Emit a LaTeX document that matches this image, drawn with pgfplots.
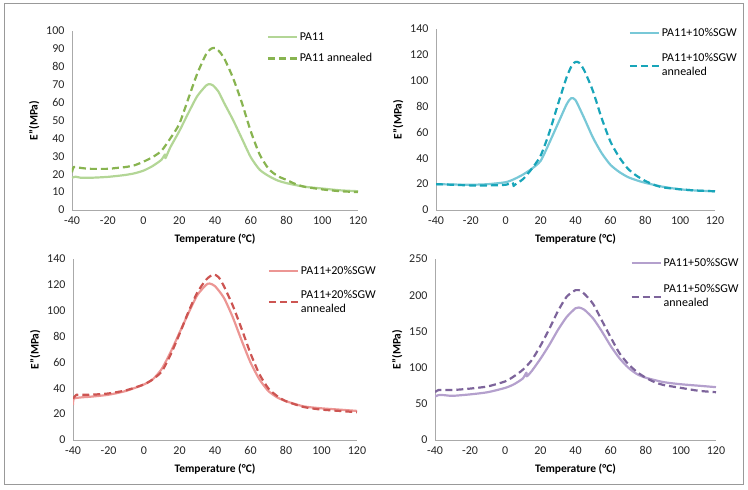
\documentclass[border=0pt]{standalone}
\usepackage{pgfplots}
\pgfplotsset{compat=1.18}
\usepackage{fontspec}
\setmainfont{Carlito}
\definecolor{gS}{RGB}{179,214,150}
\definecolor{gD}{RGB}{136,180,80}
\definecolor{cS}{RGB}{120,200,215}
\definecolor{cD}{RGB}{24,165,185}
\definecolor{rS}{RGB}{236,150,148}
\definecolor{rD}{RGB}{205,85,82}
\definecolor{pS}{RGB}{180,160,205}
\definecolor{pD}{RGB}{125,100,155}
\definecolor{axc}{RGB}{170,170,170}
\pgfplotsset{
  panel/.style={
    scale only axis,
    anchor=south west,
    axis lines=left,
    axis line style={axc, line width=0.8pt, -},
    xmin=-40, xmax=120,
    xtick={-40,-20,...,120},
    major tick length=0pt,
    tick style={draw=none},
    /pgf/number format/assume math mode=true,
    ticklabel style={font=\fontsize{12}{14}\selectfont, text=black!85},
    xticklabel style={yshift=-3pt},
    yticklabel style={xshift=-4pt},
    xlabel={\textbf{Temperature (°C)}},
    ylabel={\textbf{E"(MPa)}},
    label style={font=\fontsize{11.5}{13}\selectfont},
    xlabel style={yshift=-2pt},
    ylabel style={yshift=0pt},
    legend style={draw=none, fill=none, font=\fontsize{12}{14}\selectfont,
      anchor=north west, row sep=12pt, inner sep=0pt,
      cells={anchor=west, align=left}},
    legend cell align=left,
    legend image code/.code={\draw[##1] (0pt,0pt) -- (29pt,0pt);},
    every axis plot/.append style={line width=2.2pt, line join=round, smooth, tension=0.4},
  },
  dsh/.style={dash pattern=on 7pt off 4pt},
}
\begin{document}
\begin{tikzpicture}[x=1pt,y=1pt]
\useasboundingbox (0,0) rectangle (748,490);
\draw[gray!80, line width=0.8pt] (4,6) rectangle (743,487);

% top-left
\begin{axis}[panel, at={(72pt,280pt)}, width=286pt, height=179pt,
  ymin=0, ymax=100, ytick={0,10,...,100},
  legend style={at={(0.68,1.005)}, row sep=8pt}]
\addplot[gS] coordinates {(-40,18) (-38,18.6) (-35,18) (-30,18) (-25,18.2) (-20,18.5) (-15,19) (-10,19.6) (-5,20.5) (0,22) (5,24.5) (10,28) (12,31) (12.3,29) (15,35) (20,44) (25,54) (30,63.5) (35,69.5) (37,70.3) (39,69.5) (42,66) (45,60) (50,50.5) (55,40) (60,29.5) (65,22.5) (70,19) (75,16.5) (80,15) (90,13) (100,12) (110,11) (120,10.5)};
\addlegendentry{PA11}
\addplot[gD, dsh] coordinates {(-40,21) (-39,24) (-35,23.5) (-30,23) (-20,23) (-15,23.5) (-10,24) (-5,25) (0,27) (5,29.5) (10,33) (15,40) (20,48) (25,62) (30,76) (35,87) (38,90.2) (40,90.5) (42,89) (45,85) (50,74) (55,60) (60,44) (65,31) (70,23) (75,19) (80,16.8) (85,14.5) (90,13) (100,11.5) (110,10.5) (120,10)};
\addlegendentry{PA11 annealed}
\end{axis}

% top-right
\begin{axis}[panel, at={(436pt,280pt)}, width=279pt, height=181pt,
  ymin=0, ymax=140, ytick={0,20,...,140},
  legend style={at={(0.69,1.017)}}]
\addplot[cS] coordinates {(-40,20) (-30,19.7) (-20,19.5) (-10,20) (0,21.5) (5,24) (10,27.5) (15,32) (20,38) (25,52) (30,67) (35,82) (37.5,86.5) (40,85) (45,71) (50,56) (55,44) (60,35) (65,29.5) (70,25.5) (75,23) (80,21) (90,18) (100,16) (110,15) (120,14.5)};
\addlegendentry{PA11+10\%SGW}
\addplot[cD, dsh] coordinates {(-40,20) (-30,19.5) (-20,19) (-10,19) (0,19.5) (4,21) (4.5,18.5) (5,19.3) (10,24) (15,32) (20,42) (25,60) (30,82) (35,103) (38,112) (40,114.5) (42,114) (45,108) (50,92) (55,71) (60,53) (65,41) (70,32) (75,26.5) (80,22.5) (85,19.5) (90,17.5) (100,16) (110,15) (120,14.5)};
\addlegendentry{PA11+10\%SGW\\annealed}
\end{axis}

% bottom-left
\begin{axis}[panel, at={(73pt,50pt)}, width=284pt, height=181pt,
  ymin=0, ymax=140, ytick={0,20,...,140},
  legend style={at={(0.685,0.972)}, row sep=10pt}]
\addplot[rS] coordinates {(-40,27) (-39.5,32) (-35,33) (-30,33.5) (-20,35) (-10,38) (0,43) (5,47) (10,55) (15,68) (20,83) (25,98) (30,112) (35,120) (37,121) (40,119) (45,110) (50,95) (55,77) (60,60) (65,47) (70,38) (75,33) (80,30) (90,26) (100,24.5) (110,23.5) (120,22.5)};
\addlegendentry{PA11+20\%SGW}
\addplot[rD, dsh] coordinates {(-40,32) (-38,35) (-35,35) (-30,35) (-20,36) (-10,38.5) (0,43) (5,47) (10,53) (15,66) (20,82) (25,99) (30,114) (35,124) (39,128) (42,126) (45,119) (50,104) (55,86) (60,67) (65,51) (70,40) (75,34) (80,30) (90,25.5) (100,23.5) (110,22.5) (120,21.5)};
\addlegendentry{PA11+20\%SGW\\annealed}
\end{axis}

% bottom-right
\begin{axis}[panel, at={(435pt,50pt)}, width=281pt, height=181pt,
  ymin=0, ymax=250, ytick={0,50,...,250},
  legend style={at={(0.695,1.017)}, row sep=13pt}]
\addplot[pS] coordinates {(-40,60) (-38,62) (-35,62) (-30,61) (-20,63) (-10,66) (0,72) (5,77) (10,85) (12,93) (12.3,88) (15,95) (20,112) (25,131) (30,152) (35,170) (40,182) (42,183) (45,180) (50,168) (55,150) (60,130) (65,113) (70,100) (75,91) (80,86) (90,80) (100,77) (110,75) (120,73)};
\addlegendentry{PA11+50\%SGW}
\addplot[pD, dsh] coordinates {(-40,66) (-38,69) (-30,69) (-20,71) (-10,74) (0,81) (5,88) (10,97) (15,110) (20,130) (25,153) (30,178) (35,198) (40,207) (42,207) (45,202) (50,188) (55,165) (60,142) (65,120) (70,105) (75,94) (80,86) (85,80) (90,76) (100,72) (110,68) (120,66)};
\addlegendentry{PA11+50\%SGW\\annealed}
\end{axis}
\end{tikzpicture}
\end{document}
